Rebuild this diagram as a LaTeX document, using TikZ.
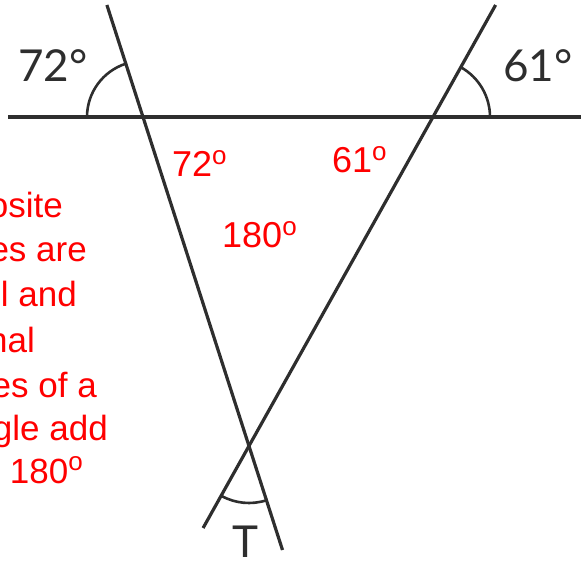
\documentclass[tikz,border=0pt]{standalone}
\usepackage{fontspec}
\setmainfont{Liberation Sans}
\newfontfamily\labelfont{Lato}
\newcommand{\rdeg}{\raisebox{12.3pt}{\fontsize{26}{26}\selectfont o}}
\begin{document}
\begin{tikzpicture}[x=1pt,y=1pt,
  geo/.style={line width=3.2pt, draw=black!82},
  ang/.style={line width=2.6pt, draw=black!82},
  blk/.style={font=\labelfont\fontsize{44}{44}\selectfont, text=black!82, inner sep=0pt, anchor=base west},
  redlbl/.style={font=\fontsize{36}{36}\selectfont, text=red, inner sep=0pt, anchor=base west},
  para/.style={font=\fontsize{35}{35}\selectfont, text=red, inner sep=0pt, anchor=base east}]
\useasboundingbox (0,0) rectangle (581,563);
% points
\coordinate (H1) at (8,446); \coordinate (H2) at (581,446);
\coordinate (L1) at (106.9,558); \coordinate (L2) at (282.5,13);
\coordinate (R1) at (495.6,558); \coordinate (R2) at (203.1,35);
\coordinate (A) at (143,446); \coordinate (B) at (433,446); \coordinate (T) at (249,117);
% lines
\draw[geo] (H1) -- (H2);
\draw[geo] (L1) -- (L2);
\draw[geo] (R1) -- (R2);
% angle arcs
\draw[ang] (A) ++(180:56) arc[start angle=180,end angle=107.9,radius=56];
\draw[ang] (B) ++(0:57) arc[start angle=0,end angle=60.8,radius=57];
\draw[ang] (T) ++(240.8:57) arc[start angle=240.8,end angle=287.9,radius=57];
% black labels
\node[blk] (a1) at (18,481) {72°};
\node[blk] (b1) at (503,481) {61°};
\node[blk] (t1) at (232,6) {T};
% red labels
\node[redlbl] (a2) at (172,386) {72\rdeg};
\node[redlbl] (b2) at (332,390) {61\rdeg};
\node[redlbl] (s2) at (222,315) {180\rdeg};
% paragraph (cut at the left edge)
\begin{scope}
\clip (0,0) rectangle (581,563);
\node[para] (p1) at (63,345) {osite};
\node[para] (p2) at (87,301) {es are};
\node[para] (p3) at (77,256) {l and};
\node[para] (p4) at (35,211) {nal};
\node[para] (p5) at (97,166) {es of a};
\node[para] (p6) at (108,123) {gle add};
\node[para] (p7) at (83,80) {180\rdeg};
\end{scope}
\end{tikzpicture}
\end{document}
